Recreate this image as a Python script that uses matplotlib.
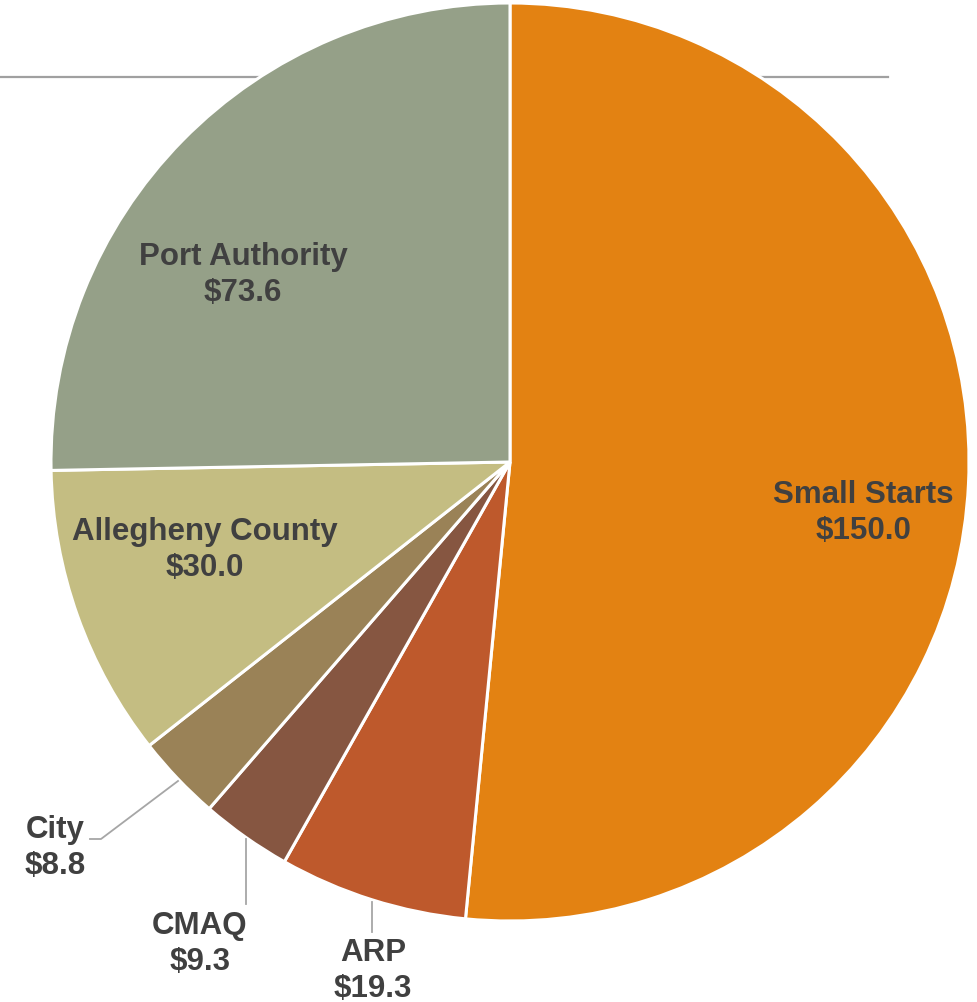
import matplotlib
matplotlib.use("Agg")
import matplotlib.pyplot as plt

categories = ["Small Starts", "ARP", "CMAQ", "City", "Allegheny County", "Port Authority"]
values = [150.0, 19.3, 9.3, 8.8, 30.0, 73.6]
colors = ["#E38212", "#BE592C", "#865641", "#9A8257", "#C4BD82", "#95A088"]

W, H = 977, 1003
CX, CY, R = 510, 463, 459  # pie centre / radius in pixels (from top-left)

def px(x, y):
    return ((x - CX) / R, (CY - y) / R)

fig = plt.figure(figsize=(W / 100, H / 100), dpi=100)
ax = fig.add_axes([0, 0, 1, 1])

wedges, _ = ax.pie(values, colors=colors, startangle=90, counterclock=False,
                   radius=1.0, center=(0, 0),
                   wedgeprops=dict(edgecolor="white", linewidth=2.2))
for w in wedges:
    w.set_zorder(2)

ax.set_aspect("auto")
ax.set_xlim(-CX / R, (W - CX) / R)
ax.set_ylim(-(H - CY) / R, CY / R)
ax.axis("off")

# grey rule behind the pie
x0, y0 = px(0, 78)
x1, _ = px(888, 78)
ax.plot([x0, x1], [y0, y0], color="#A0A0A0", lw=1.6, zorder=0)

font = dict(family=["Liberation Sans", "DejaVu Sans"], fontweight="bold",
            fontsize=22.5, color="#404040", ha="center", va="center",
            linespacing=1.24, zorder=5)

def label(i, x, y, **kw):
    d = dict(font)
    d.update(kw)
    ax.text(*px(x, y), f"{categories[i]}\n${values[i]:.1f}", **d)

label(0, 863, 513)
label(5, 243, 275)
label(4, 205, 550)
label(3, 55, 848)
label(2, 200, 944)
label(1, 373, 971)

lc = dict(color="#A6A6A6", lw=1.3, zorder=4)
pts = [px(178, 782), px(101, 840), px(90, 840)]
ax.plot([p[0] for p in pts], [p[1] for p in pts], **lc)
pts = [px(246, 840), px(246, 905)]
ax.plot([p[0] for p in pts], [p[1] for p in pts], **lc)
pts = [px(372, 903), px(372, 933)]
ax.plot([p[0] for p in pts], [p[1] for p in pts], **lc)

fig.savefig("out.png", dpi=100, facecolor="white")
